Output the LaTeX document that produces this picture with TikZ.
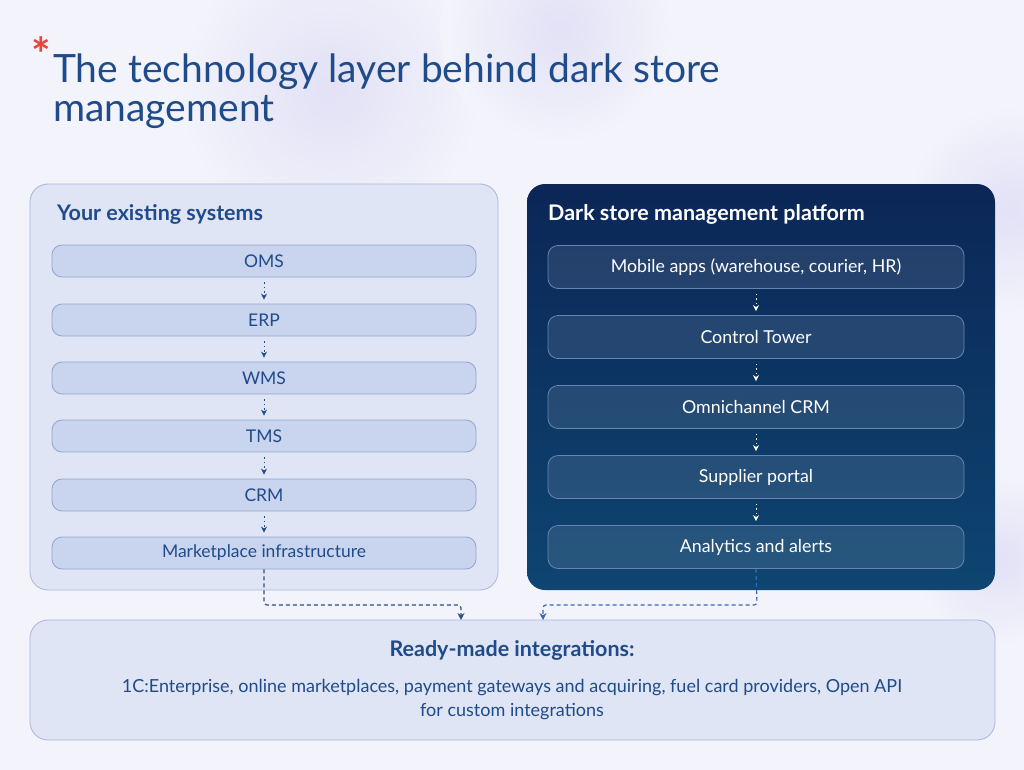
\documentclass[tikz,border=0pt]{standalone}
\usepackage{fontspec}
\setmainfont{Lato}
\usetikzlibrary{arrows.meta}
\definecolor{bg}{HTML}{F3F4FB}
\definecolor{blob}{HTML}{E2E1F6}
\definecolor{ink}{HTML}{1F4B8A}
\definecolor{star}{HTML}{E8453C}
\definecolor{lfill}{HTML}{DFE5F5}
\definecolor{ldraw}{HTML}{A8B7D8}
\definecolor{bfill}{HTML}{C9D4EE}
\definecolor{bdraw}{HTML}{92A5CF}
\definecolor{dtop}{HTML}{0B2657}
\definecolor{dbot}{HTML}{0E4571}
\definecolor{ddraw}{HTML}{6585B2}
\definecolor{linkL}{HTML}{2B4F88}
\definecolor{linkR}{HTML}{3B66B8}
\tikzset{
  panel/.style={rounded corners=18pt, line width=0.8pt},
  lbox/.style={draw=bdraw, fill=bfill, rounded corners=10pt, line width=0.8pt,
    minimum width=424pt, minimum height=32pt, inner sep=0pt, text=ink,
    font=\fontsize{17.5}{20}\selectfont},
  dbox/.style={draw=ddraw, fill=white, fill opacity=0.1, text opacity=1, rounded corners=10pt, line width=0.8pt,
    minimum width=416pt, minimum height=43pt, inner sep=0pt, text=white,
    font=\fontsize{17.8}{20}\selectfont},
  flowL/.style={draw=ink, line width=1pt, dash pattern=on 1.5pt off 3pt,
    -{Stealth[length=6pt,width=6pt]}, shorten <=5pt, shorten >=4pt},
  flowD/.style={draw=white, line width=1pt, dash pattern=on 1.5pt off 3pt,
    -{Stealth[length=6pt,width=6pt]}, shorten <=5pt, shorten >=4pt},
  link/.style={line width=1.2pt, dash pattern=on 4pt off 3pt, rounded corners=3pt,
    -{Stealth[length=7pt,width=7pt]}},
  head/.style={anchor=base west, inner sep=0pt, font=\fontsize{21.5}{24}\selectfont\bfseries},
}
\begin{document}
\begin{tikzpicture}[x=1pt,y=-1pt]
\useasboundingbox (0,0) rectangle (1024,770);
\fill[bg] (0,0) rectangle (1024,770);
\shade[inner color=blob, outer color=bg] (330,90) circle (160);
\shade[inner color=blob, outer color=bg] (560,30) circle (120);
\shade[inner color=blob, outer color=bg] (1010,210) circle (110);
\shade[inner color=blob, outer color=bg] (1000,560) circle (90);

% title
\node[anchor=base west, inner sep=0pt, text=star, font=\fontsize{46}{46}\selectfont\bfseries] (ast) at (31,72) {*};
\node[anchor=base west, inner sep=0pt, text=ink, font=\fontsize{39}{40}\selectfont] (t1) at (53,83) {The technology layer behind dark store};
\node[anchor=base west, inner sep=0pt, text=ink, font=\fontsize{39}{40}\selectfont] (t2) at (53,122) {management};

% left panel
\draw[panel, draw=ldraw, fill=lfill] (30,184) rectangle (498,590);
\node[head, text=ink] (lh) at (57,220) {Your existing systems};
\node[lbox] (oms) at (264,261) {OMS};
\node[lbox] (erp) at (264,320) {ERP};
\node[lbox] (wms) at (264,378) {WMS};
\node[lbox] (tms) at (264,436) {TMS};
\node[lbox] (crm) at (264,495) {CRM};
\node[lbox] (mkt) at (264,553) {Marketplace infrastructure};
\draw[flowL] (oms) -- (erp);
\draw[flowL] (erp) -- (wms);
\draw[flowL] (wms) -- (tms);
\draw[flowL] (tms) -- (crm);
\draw[flowL] (crm) -- (mkt);

% right panel
\shade[panel, top color=dtop, bottom color=dbot] (527,184) rectangle (995,590);
\node[head, text=white] (rh) at (548,220) {Dark store management platform};
\node[dbox] (mob) at (756,267) {Mobile apps (warehouse, courier, HR)};
\node[dbox] (ct) at (756,337) {Control Tower};
\node[dbox] (ocrm) at (756,407) {Omnichannel CRM};
\node[dbox] (sup) at (756,477) {Supplier portal};
\node[dbox] (ana) at (756,547) {Analytics and alerts};
\draw[flowD] (mob) -- (ct);
\draw[flowD] (ct) -- (ocrm);
\draw[flowD] (ocrm) -- (sup);
\draw[flowD] (sup) -- (ana);

% bottom box
\draw[panel, draw=ldraw, fill=lfill] (30,620) rectangle (995,740);
\node[anchor=base, inner sep=0pt, text=ink, font=\fontsize{21.5}{24}\selectfont\bfseries] (bh) at (512,656) {Ready-made integrations:};
\node[anchor=base, inner sep=0pt, text=ink, font=\fontsize{18}{20}\selectfont] (bt1) at (512,692) {1C:Enterprise, online marketplaces, payment gateways and acquiring, fuel card providers, Open API};
\node[anchor=base, inner sep=0pt, text=ink, font=\fontsize{18}{20}\selectfont] (bt2) at (512,716) {for custom integrations};
\coordinate (inL) at (461,620);
\coordinate (inR) at (543,620);

\draw[link, draw=linkL] (mkt.south) -- (264,605) -- (461,605) -- (inL);
\draw[link, draw=linkR] (ana.south) -- (757,605) -- (543,605) -- (inR);
\end{tikzpicture}
\end{document}
